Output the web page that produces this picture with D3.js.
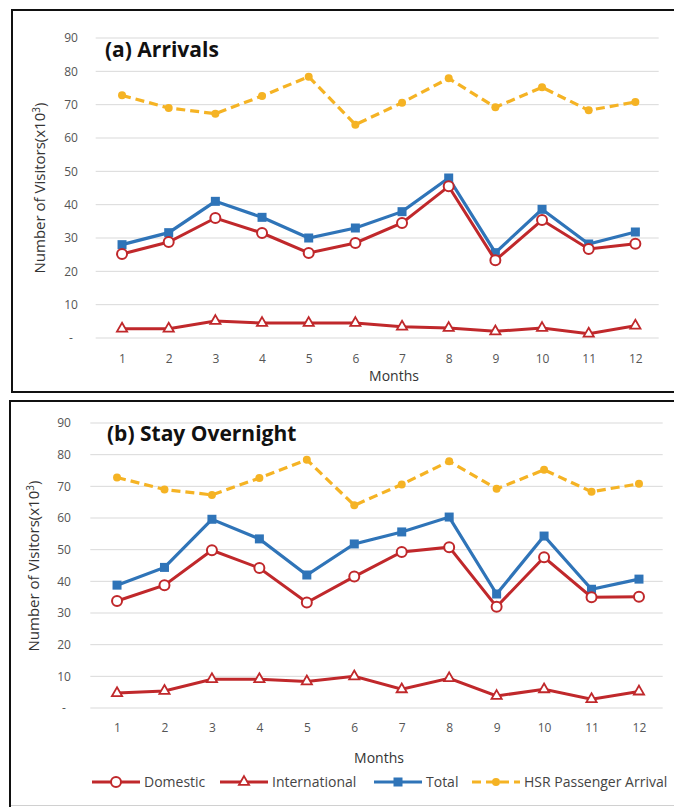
<!DOCTYPE html>
<html>
<head>
<meta charset="utf-8">
<script src="https://cdn.jsdelivr.net/npm/d3@7"></script>
<style>
  html, body { margin: 0; padding: 0; background: #ffffff; }
  svg { display: block; font-family: "Open Sans", Lato, sans-serif; }
</style>
</head>
<body>
<svg id="chart" width="674" height="807"></svg>
<script>
// Months on the x axis
const months = ["1", "2", "3", "4", "5", "6", "7", "8", "9", "10", "11", "12"];
// Y tick values (zero is printed as "-")
const yTicks = [0, 10, 20, 30, 40, 50, 60, 70, 80, 90];

// (a) Arrivals, thousands of visitors
const arrDomestic      = [25.2, 28.8, 36.0, 31.5, 25.5, 28.5, 34.5, 45.5, 23.3, 35.4, 26.7, 28.3];
const arrInternational = [2.8, 2.8, 5.1, 4.5, 4.5, 4.5, 3.4, 3.0, 2.0, 3.0, 1.3, 3.7];
const arrTotal         = [28.0, 31.6, 41.0, 36.2, 30.0, 33.0, 37.9, 48.0, 25.6, 38.6, 28.2, 31.8];

// (b) Stay overnight, thousands of visitors
const ovnDomestic      = [33.8, 38.8, 49.8, 44.2, 33.3, 41.5, 49.3, 50.8, 32.0, 47.6, 35.0, 35.1];
const ovnInternational = [4.7, 5.4, 9.1, 9.1, 8.4, 10.0, 5.9, 9.4, 3.8, 5.9, 2.8, 5.2];
const ovnTotal         = [38.8, 44.4, 59.6, 53.4, 42.0, 51.8, 55.6, 60.3, 36.0, 54.3, 37.5, 40.7];

// HSR passenger arrivals (same in both panels)
const hsrArrival = [72.8, 69.0, 67.3, 72.6, 78.4, 64.0, 70.6, 77.9, 69.2, 75.2, 68.3, 70.8];

const seriesNames = ["Domestic", "International", "Total", "HSR Passenger Arrival"];

const RED = "#c0282b", BLUE = "#2f74b8", ORANGE = "#f5b324";

const svg = d3.select("#chart");

function panel(cfg) {
  const g = svg.append("g");

  // outer frame (runs past the right edge)
  g.append("rect").attr("x", cfg.frame[0]).attr("y", cfg.frame[1])
    .attr("width", cfg.frame[2]).attr("height", cfg.frame[3])
    .attr("fill", "#fff").attr("stroke", "#111").attr("stroke-width", 2);

  const x = d3.scalePoint().domain(months).range(cfg.xRange).padding(0.5);
  const y = d3.scaleLinear().domain([0, 90]).range(cfg.yRange);

  // horizontal gridlines
  g.append("g").selectAll("line").data(yTicks).join("line")
    .attr("x1", cfg.xRange[0] - 3).attr("x2", cfg.xRange[1])
    .attr("y1", d => y(d)).attr("y2", d => y(d))
    .attr("stroke", "#d9d9d9").attr("stroke-width", 1);

  // y axis labels
  const yAxis = d3.axisLeft(y).tickValues(yTicks)
    .tickFormat(d => d === 0 ? "-" : d).tickSize(0).tickPadding(0);
  const ya = g.append("g").attr("transform", `translate(${cfg.yLabelX},0)`).call(yAxis);
  ya.select(".domain").remove();
  ya.selectAll("text").attr("fill", "#555").style("font-size", "12px")
    .attr("text-anchor", "middle").style("font-family", "'Open Sans', sans-serif");

  // x axis labels
  const xAxis = d3.axisBottom(x).tickSize(0).tickPadding(0);
  const xa = g.append("g").attr("transform", `translate(0,${cfg.xLabelY})`).call(xAxis);
  xa.select(".domain").remove();
  xa.selectAll("text").attr("fill", "#555").style("font-size", "12px")
    .style("font-family", "'Open Sans', sans-serif");

  // titles
  g.append("text").attr("x", cfg.titlePos[0]).attr("y", cfg.titlePos[1])
    .attr("font-weight", "bold").attr("font-size", 21).attr("fill", "#111")
    .text(cfg.title);
  g.append("text").attr("x", cfg.monthsPos[0]).attr("y", cfg.monthsPos[1])
    .attr("text-anchor", "middle").attr("font-size", 14).attr("fill", "#333")
    .text("Months");
  g.append("text")
    .attr("transform", `translate(${cfg.yTitlePos[0]},${cfg.yTitlePos[1]}) rotate(-90)`)
    .attr("text-anchor", "middle").attr("font-size", 15).attr("fill", "#333")
    .html('Number of Visitors(x10<tspan dy="-5" font-size="10">3</tspan><tspan dy="5">)</tspan>');

  const line = d3.line().x((d, i) => x(months[i])).y(d => y(d));

  // HSR dashed line with dot markers
  g.append("path").datum(hsrArrival).attr("d", line).attr("fill", "none")
    .attr("stroke", ORANGE).attr("stroke-width", 3.2).attr("stroke-dasharray", "9,5");
  g.append("g").selectAll("circle").data(hsrArrival).join("circle")
    .attr("cx", (d, i) => x(months[i])).attr("cy", d => y(d)).attr("r", 4)
    .attr("fill", ORANGE);

  // Total with filled squares
  g.append("path").datum(cfg.total).attr("d", line).attr("fill", "none")
    .attr("stroke", BLUE).attr("stroke-width", 3.2);
  g.append("g").selectAll("rect").data(cfg.total).join("rect")
    .attr("x", (d, i) => x(months[i]) - 4.5).attr("y", d => y(d) - 4.5)
    .attr("width", 9).attr("height", 9).attr("fill", BLUE);

  // Domestic with open circles
  g.append("path").datum(cfg.domestic).attr("d", line).attr("fill", "none")
    .attr("stroke", RED).attr("stroke-width", 3);
  g.append("g").selectAll("circle").data(cfg.domestic).join("circle")
    .attr("cx", (d, i) => x(months[i])).attr("cy", d => y(d)).attr("r", 5)
    .attr("fill", "#fff").attr("stroke", RED).attr("stroke-width", 2);

  // International with open triangles
  g.append("path").datum(cfg.international).attr("d", line).attr("fill", "none")
    .attr("stroke", RED).attr("stroke-width", 3);
  const tri = d3.symbol().type(d3.symbolTriangle).size(45);
  g.append("g").selectAll("path").data(cfg.international).join("path")
    .attr("d", tri)
    .attr("transform", (d, i) => `translate(${x(months[i])},${y(d)})`)
    .attr("fill", "#fff").attr("stroke", RED).attr("stroke-width", 1.8);
}

panel({
  frame: [12, 10, 680, 382],
  xRange: [98.7, 658.7], yRange: [338, 38],
  yLabelX: 71, xLabelY: 354,
  title: "(a) Arrivals", titlePos: [105, 57],
  monthsPos: [394, 381], yTitlePos: [45, 188],
  domestic: arrDomestic, international: arrInternational, total: arrTotal
});

panel({
  frame: [10, 401, 680, 420],
  xRange: [93.3, 662.7], yRange: [708, 423],
  yLabelX: 64, xLabelY: 723,
  title: "(b) Stay Overnight", titlePos: [107, 441],
  monthsPos: [379, 763], yTitlePos: [39, 566],
  domestic: ovnDomestic, international: ovnInternational, total: ovnTotal
});

// faint bottom edge of the lower chart area
svg.append("line").attr("x1", 11).attr("x2", 674).attr("y1", 805.5).attr("y2", 805.5)
  .attr("stroke", "#d0d0d0").attr("stroke-width", 1);

// legend beneath panel (b)
const legend = svg.append("g").attr("transform", "translate(0,782)");
const legendItems = [
  { name: seriesNames[0], x0: 92,  color: RED,    marker: "circle" },
  { name: seriesNames[1], x0: 220, color: RED,    marker: "triangle" },
  { name: seriesNames[2], x0: 374, color: BLUE,   marker: "square" },
  { name: seriesNames[3], x0: 472, color: ORANGE, marker: "dot" }
];
legendItems.forEach(it => {
  const lg = legend.append("g");
  lg.append("line").attr("x1", it.x0).attr("x2", it.x0 + 48).attr("y1", 0).attr("y2", 0)
    .attr("stroke", it.color).attr("stroke-width", 3)
    .attr("stroke-dasharray", it.marker === "dot" ? "9,5" : null);
  const cx = it.x0 + 24;
  if (it.marker === "circle") {
    lg.append("circle").attr("cx", cx).attr("cy", 0).attr("r", 5)
      .attr("fill", "#fff").attr("stroke", it.color).attr("stroke-width", 2);
  } else if (it.marker === "triangle") {
    lg.append("path").attr("d", d3.symbol().type(d3.symbolTriangle).size(45))
      .attr("transform", `translate(${cx},0)`)
      .attr("fill", "#fff").attr("stroke", it.color).attr("stroke-width", 1.8);
  } else if (it.marker === "square") {
    lg.append("rect").attr("x", cx - 4.5).attr("y", -4.5).attr("width", 9).attr("height", 9)
      .attr("fill", it.color);
  } else {
    lg.append("circle").attr("cx", cx).attr("cy", 0).attr("r", 4).attr("fill", it.color);
  }
  lg.append("text").attr("x", it.x0 + 52).attr("y", 5)
    .attr("font-size", 14).attr("fill", "#444").text(it.name);
});
</script>
</body>
</html>
